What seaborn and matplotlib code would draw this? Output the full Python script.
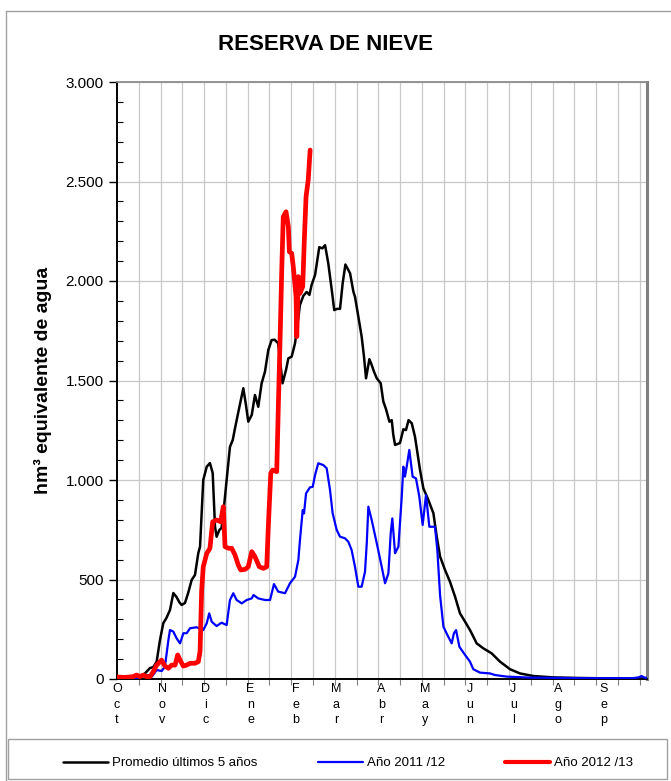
# Reserva de nieve - recreacion del grafico
import numpy as np
import pandas as pd
import matplotlib
matplotlib.use('Agg')
import matplotlib.pyplot as plt
import matplotlib.ticker as mticker
from matplotlib.lines import Line2D
from matplotlib.patches import Rectangle
import seaborn as sns

# Datos (dia del año hidrologico desde 1 oct, hm3)
prom_dias = [0, 5, 10, 15, 18, 20.4, 22.7, 25, 27.3, 29.6, 31.9, 34, 36.5, 38.8, 41, 43, 44.5, 46.8,
             49, 51.4, 53.7, 56, 57.2, 59.4, 61.8, 64, 65.9, 67.5, 68.6, 70.5, 72, 73.7, 75.5, 77.8,
             79.7, 81.3, 83.6, 87, 88.8, 90.4, 92.8, 95, 97.3, 99.6, 101.9, 104.2, 106.5, 108.5, 111,
             114, 116.4, 118, 120.3, 122.6, 126, 128.3, 130.6, 132.5, 134, 136.4, 139.3, 141.4, 143.3,
             145.5, 147.9, 149.6, 151.5, 153.6, 155.4, 157.3, 160.5, 162.8, 163.9, 166.2, 168.5, 170.1,
             171.5, 173.8, 175.4, 177, 178.9, 181.6, 183.4, 185.3, 187.6, 189.2, 190.3, 191.5, 194.9,
             197.2, 199, 200.8, 203, 205.2, 206.6, 208.7, 211, 214.4, 217.9, 220.2, 222.5, 225.9, 229.3,
             232.8, 236.2, 239.7, 243.1, 247.7, 252.3, 258, 263.8, 270.7, 277.5, 286.7, 300.5, 319, 340, 365]
prom_vals = [0, 2, 4, 8, 18, 37, 55, 60, 87, 196, 281, 306, 347, 432, 412, 385, 372, 382,
             432, 497, 523, 633, 665, 1000, 1067, 1085, 1035, 765, 715, 749, 759, 866, 1000, 1167,
             1201, 1261, 1343, 1461, 1377, 1293, 1327, 1427, 1368, 1486, 1544, 1653, 1703, 1705, 1687,
             1486, 1553, 1611, 1620, 1687, 1880, 1925, 1945, 1930, 1980, 2030, 2170, 2164, 2180,
             2089, 1955, 1854, 1860, 1860, 1988, 2083, 2039, 1946, 1921, 1821, 1720, 1620,
             1511, 1607, 1578, 1544, 1511, 1486, 1395, 1355, 1293, 1301, 1226, 1176, 1186,
             1255, 1251, 1301, 1285, 1218, 1151, 1050, 958, 900, 833, 715, 615, 548, 489,
             414, 330, 288, 246, 179, 154, 129, 87, 49, 28, 15, 8, 5, 3, 2]

a1112_dias = [0, 8, 14, 17, 20.4, 24, 27.3, 30.8, 33, 35.4, 36.5, 38.8, 41, 43.4, 45.7, 48, 50.3, 54.8,
              59.4, 61.8, 63.5, 65.2, 68.6, 72, 75.5, 77.8, 80.1, 82.4, 85.9, 89.3, 92.8, 94, 97.3,
              101.9, 105.4, 108.1, 111, 115.7, 119.1, 122.6, 124.9, 126, 127.9, 128.8, 130.2, 132.9,
              134.8, 136.4, 138.6, 142.1, 144.4, 146.7, 148.5, 151.3, 153.6, 157, 159.3, 161.6, 163.9,
              166.2, 168.5, 170.8, 172, 173.1, 175.4, 178.9, 182.3, 184.6, 186.9, 188.5, 189.6, 191.5,
              193.8, 196.1, 197.2, 198.3, 199.5, 201.3, 203.6, 205.9, 208.2, 210.5, 212.8, 215.1, 217.4,
              219, 220.6, 222.5, 224.8, 227, 230.5, 232, 233.5, 235.8, 239.7, 243.1, 245.4, 250, 256.9,
              260.3, 268.4, 284.4, 320, 355, 359, 361.3, 363, 365]
a1112_vals = [0, 2, 5, 12, 20, 12, 45, 40, 62, 196, 246, 238, 205, 179, 230, 230, 255, 260,
              246, 280, 330, 288, 266, 283, 271, 397, 431, 397, 380, 397, 405, 422, 405,
              397, 397, 477, 439, 431, 481, 514, 598, 698, 849, 832, 933, 963,
              966, 1025, 1084, 1075, 1059, 950, 833, 749, 715, 707, 690, 648, 564,
              464, 464, 539, 682, 866, 799, 682, 564, 481, 531, 732, 807, 632,
              665, 916, 1067, 1017, 1067, 1151, 1017, 1008, 916, 774, 925, 765, 765,
              765, 648, 420, 263, 229, 179, 229, 246, 162, 121, 87, 49, 32, 28,
              20, 12, 7, 4, 4, 8, 15, 8, 5]

a1213_dias = [0, 5.5, 11.2, 13.5, 15.8, 18.1, 20.4, 22.7, 25, 27.3, 30.7, 33, 35.4, 37.7, 40, 41.8,
              43.4, 45.7, 48, 50.3, 53.7, 56, 57.2, 58.3, 59.4, 61.8, 64, 65.9, 68.6, 71.4, 73.2, 74.4,
              76.7, 79, 81.3, 83.5, 85.2, 88.2, 90.4, 92.8, 95, 98, 100.8, 103.1, 104.2, 105.9, 107.2,
              110, 111.1, 112.3, 113.4, 114.5, 116.4, 118, 118.7, 120.3, 121.4, 123.3, 123.8, 124.9,
              126, 127.9, 129, 130.2, 131.7, 133]
a1213_vals = [10, 8, 12, 20, 12, 20, 12, 12, 37, 70, 95, 65, 54, 70, 70, 121,
              95, 65, 70, 79, 79, 87, 140, 447, 564, 631, 657, 790, 799, 790, 866, 665,
              657, 657, 623, 573, 548, 551, 564, 640, 615, 564, 556, 564, 765, 1034, 1050,
              1042, 1368, 1703, 2039, 2323, 2348, 2273, 2147, 2139, 2072, 1921, 1720, 2022,
              1938, 1972, 2206, 2424, 2508, 2658]

meses = ['Oct', 'Nov', 'Dic', 'Ene', 'Feb', 'Mar', 'Abr', 'May', 'Jun', 'Jul', 'Ago', 'Sep']
inicio_mes = [0, 31, 61, 92, 123, 151, 182, 212, 243, 273, 304, 335]

sns.set_theme(style='white')
plt.rcParams['font.family'] = ['Liberation Sans', 'DejaVu Sans']
plt.rcParams['text.color'] = 'black'
plt.rcParams['axes.labelcolor'] = 'black'
plt.rcParams['xtick.color'] = 'black'
plt.rcParams['ytick.color'] = 'black'

fig = plt.figure(figsize=(6.71, 7.81), dpi=100)
ax = fig.add_axes([117 / 671, 1 - 679 / 781, 530 / 671, 597 / 781])

df_prom = pd.DataFrame({'dia': prom_dias, 'hm3': prom_vals})
df_1112 = pd.DataFrame({'dia': a1112_dias, 'hm3': a1112_vals})
df_1213 = pd.DataFrame({'dia': a1213_dias, 'hm3': a1213_vals})

sns.lineplot(data=df_prom, x='dia', y='hm3', ax=ax, color='black', lw=1.8, zorder=3)
sns.lineplot(data=df_1112, x='dia', y='hm3', ax=ax, color='#0000FF', lw=1.6, zorder=4)
sns.lineplot(data=df_1213, x='dia', y='hm3', ax=ax, color='#FF0000', lw=3.4, zorder=5)

ax.set_xlim(0, 365)
ax.set_ylim(0, 3000)

# rejilla cada 15 dias en x, cada 500 en y
ax.set_xticks(np.arange(15, 365, 15))
ax.set_xticklabels([])
ax.set_xticks(inicio_mes, minor=True)
ax.set_xticklabels(['\n'.join(m) for m in meses], minor=True, fontsize=9, linespacing=1.4)
ax.tick_params(axis='x', which='major', direction='out', length=4, width=0.8, color='#808080', bottom=True)
ax.tick_params(axis='x', which='minor', length=0, pad=3)

ax.yaxis.set_major_locator(mticker.MultipleLocator(500))
ax.yaxis.set_minor_locator(mticker.MultipleLocator(100))
ax.yaxis.set_major_formatter(mticker.FuncFormatter(lambda v, p: f'{v:,.0f}'.replace(',', '.')))
ax.tick_params(axis='y', which='major', direction='out', length=6, width=1, color='black', labelsize=11, left=True)
ax.tick_params(axis='y', which='minor', direction='in', length=4, width=0.8, color='black', left=True)

ax.grid(True, which='major', axis='both', color='#c8c8c8', lw=0.9)
ax.set_axisbelow(True)

for s in ['left', 'bottom']:
    ax.spines[s].set_color('black')
    ax.spines[s].set_linewidth(1.4)
ax.spines['top'].set_color('#8c8c8c')
ax.spines['top'].set_linewidth(1.3)
ax.spines['right'].set_color('#808080')
ax.spines['right'].set_linewidth(2.2)

ax.set_xlabel('')
ax.set_ylabel('hm³ equivalente de agua', fontsize=14, fontweight='bold', labelpad=10)
fig.text(326 / 671, 1 - 45 / 781, 'RESERVA DE NIEVE', ha='center', va='center', fontsize=16, fontweight='bold')

# marco exterior y caja de leyenda
fig.add_artist(Line2D([6 / 671, 6 / 671], [0, 1 - 11 / 781], transform=fig.transFigure, color='#a0a0a0', lw=1))
fig.add_artist(Line2D([6 / 671, 1], [1 - 11 / 781, 1 - 11 / 781], transform=fig.transFigure, color='#a0a0a0', lw=1))
fig.add_artist(Rectangle((8 / 671, 2 / 781), 659 / 671, 40 / 781,
                         transform=fig.transFigure, fill=False, edgecolor='#a0a0a0', lw=1))

handles = [Line2D([], [], color='black', lw=1.8), Line2D([], [], color='#0000FF', lw=1.6),
           Line2D([], [], color='#FF0000', lw=3.0)]
labels = ['Promedio últimos 5 años', 'Año 2011 /12', 'Año 2012 /13']
fig.legend(handles, labels, loc='center', bbox_to_anchor=(348 / 671, 1 - 763 / 781), ncol=3, frameon=False,
           fontsize=9.5, handlelength=3.4, handletextpad=0.3, columnspacing=4.6)

fig.savefig('out.png', dpi=100)
